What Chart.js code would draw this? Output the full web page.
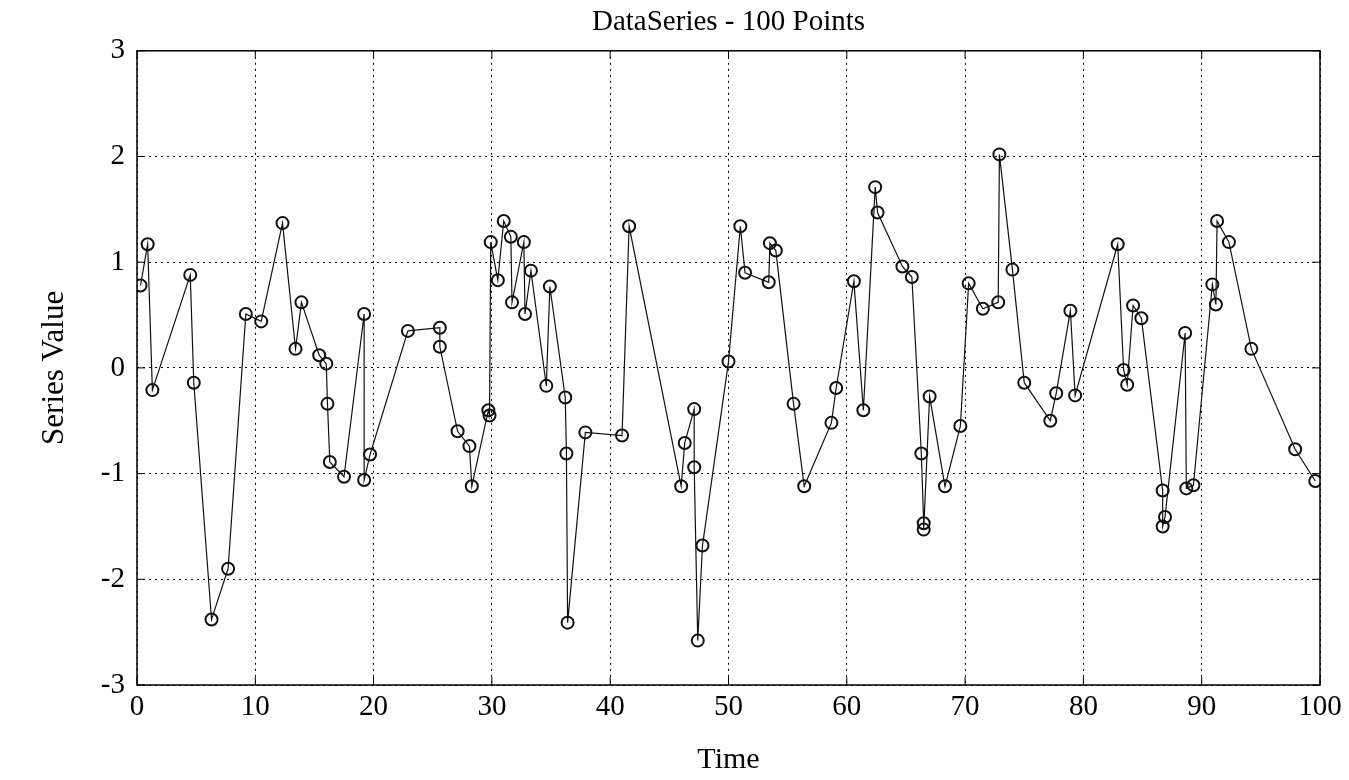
<!DOCTYPE html>
<html>
<head>
<meta charset="utf-8">
<script src="https://cdn.jsdelivr.net/npm/chart.js@4.4.1/dist/chart.umd.min.js"></script>
<style>
  html, body { margin: 0; padding: 0; background: #fff; }
</style>
</head>
<body>
<canvas id="data-series" width="1349" height="780"></canvas>
<script>
// sample times and values
const times = [
  0.3, 0.9, 1.3, 4.5, 4.8, 6.3, 7.7, 9.2, 10.5, 12.3,
  13.4, 13.9, 15.4, 16.0, 16.1, 16.3, 17.5, 19.2, 19.2, 19.7,
  22.9, 25.6, 25.6, 27.1, 28.1, 28.3, 29.7, 29.8, 29.9, 30.5,
  31.0, 31.6, 31.7, 32.7, 32.8, 33.3, 34.6, 34.9, 36.2, 36.3,
  36.4, 37.9, 41.0, 41.6, 46.0, 46.3, 47.1, 47.1, 47.4, 47.8,
  50.0, 51.0, 51.4, 53.4, 53.5, 54.0, 55.5, 56.4, 58.7, 59.1,
  60.6, 61.4, 62.4, 62.6, 64.7, 65.5, 66.3, 66.5, 66.5, 67.0,
  68.3, 69.6, 70.3, 71.5, 72.8, 72.9, 74.0, 75.0, 77.2, 77.7,
  78.9, 79.3, 82.9, 83.4, 83.7, 84.2, 84.9, 86.7, 86.7, 86.9,
  88.6, 88.7, 89.3, 90.9, 91.2, 91.3, 92.3, 94.2, 97.9, 99.6
]
const values = [
  0.78, 1.17, -0.21, 0.88, -0.14, -2.38, -1.90, 0.51, 0.44, 1.37,
  0.18, 0.62, 0.12, 0.04, -0.34, -0.89, -1.03, 0.51, -1.06, -0.82,
  0.35, 0.38, 0.20, -0.60, -0.74, -1.12, -0.40, -0.45, 1.19, 0.83,
  1.39, 1.24, 0.62, 1.19, 0.51, 0.92, -0.17, 0.77, -0.28, -0.81,
  -2.41, -0.61, -0.64, 1.34, -1.12, -0.71, -0.39, -0.94, -2.58, -1.68,
  0.06, 1.34, 0.90, 0.81, 1.18, 1.11, -0.34, -1.12, -0.52, -0.19,
  0.82, -0.40, 1.71, 1.47, 0.96, 0.86, -0.81, -1.47, -1.53, -0.27,
  -1.12, -0.55, 0.80, 0.56, 0.62, 2.02, 0.93, -0.14, -0.50, -0.24,
  0.54, -0.26, 1.17, -0.02, -0.16, 0.59, 0.47, -1.16, -1.50, -1.41,
  0.33, -1.14, -1.11, 0.79, 0.60, 1.39, 1.19, 0.18, -0.77, -1.07
]
const xTickValues = [0, 10, 20, 30, 40, 50, 60, 70, 80, 90, 100]
const yTickValues = [-3, -2, -1, 0, 1, 2, 3]

const serif = 'Liberation Serif'

// solid box round the plot plus MATLAB style inward ticks
const boxPlugin = {
  id: 'box',
  afterDatasetsDraw(chart) {
    const {ctx, chartArea: a, scales} = chart
    ctx.save()
    ctx.strokeStyle = '#000'
    ctx.lineWidth = 1.5
    ctx.strokeRect(a.left, a.top, a.right - a.left, a.bottom - a.top)
    ctx.lineWidth = 1
    ctx.beginPath()
    xTickValues.forEach(v => {
      const px = scales.x.getPixelForValue(v)
      ctx.moveTo(px, a.bottom); ctx.lineTo(px, a.bottom - 8)
      ctx.moveTo(px, a.top); ctx.lineTo(px, a.top + 8)
    })
    yTickValues.forEach(v => {
      const py = scales.y.getPixelForValue(v)
      ctx.moveTo(a.left, py); ctx.lineTo(a.left + 8, py)
      ctx.moveTo(a.right, py); ctx.lineTo(a.right - 8, py)
    })
    ctx.stroke()
    ctx.restore()
  }
}

new Chart(document.getElementById('data-series'), {
  type: 'scatter',
  data: {
    datasets: [{
      data: times.map((t, i) => ({x: t, y: values[i]})),
      showLine: true,
      borderColor: '#111',
      borderWidth: 1.2,
      pointRadius: 6,
      pointBorderWidth: 2,
      pointBorderColor: '#111',
      pointBackgroundColor: 'rgba(0,0,0,0)',
      tension: 0
    }]
  },
  options: {
    responsive: false,
    animation: false,
    devicePixelRatio: 1,
    layout: { padding: { left: 0, right: 29, top: 0, bottom: 0 } },
    plugins: {
      legend: { display: false },
      tooltip: { enabled: false },
      title: {
        display: true,
        text: 'DataSeries - 100 Points',
        fullSize: false,
        color: '#000',
        font: { family: serif, size: 29, weight: 'normal' },
        padding: { top: 5, bottom: 11 }
      }
    },
    scales: {
      x: {
        type: 'linear',
        min: 0,
        max: 100,
        afterBuildTicks: s => { s.ticks = xTickValues.map(v => ({value: v})) },
        afterFit: s => { s.height = 95 },
        ticks: { color: '#000', font: { family: serif, size: 29 }, padding: 5, maxRotation: 0 },
        grid: { color: '#000', lineWidth: 1, drawTicks: false },
        border: { display: false, dash: [2, 4] },
        title: {
          display: true,
          text: 'Time',
          color: '#000',
          font: { family: serif, size: 30 },
          padding: { top: 0, bottom: 2 }
        }
      },
      y: {
        type: 'linear',
        min: -3,
        max: 3,
        afterBuildTicks: s => { s.ticks = yTickValues.map(v => ({value: v})) },
        afterFit: s => { s.width = 137 },
        ticks: { color: '#000', font: { family: serif, size: 29 }, padding: 12 },
        grid: { color: '#000', lineWidth: 1, drawTicks: false },
        border: { display: false, dash: [2, 4] },
        title: {
          display: true,
          text: 'Series Value',
          color: '#000',
          font: { family: serif, size: 31 },
          padding: { top: 36, bottom: 0 }
        }
      }
    }
  },
  plugins: [boxPlugin]
})
</script>
</body>
</html>
